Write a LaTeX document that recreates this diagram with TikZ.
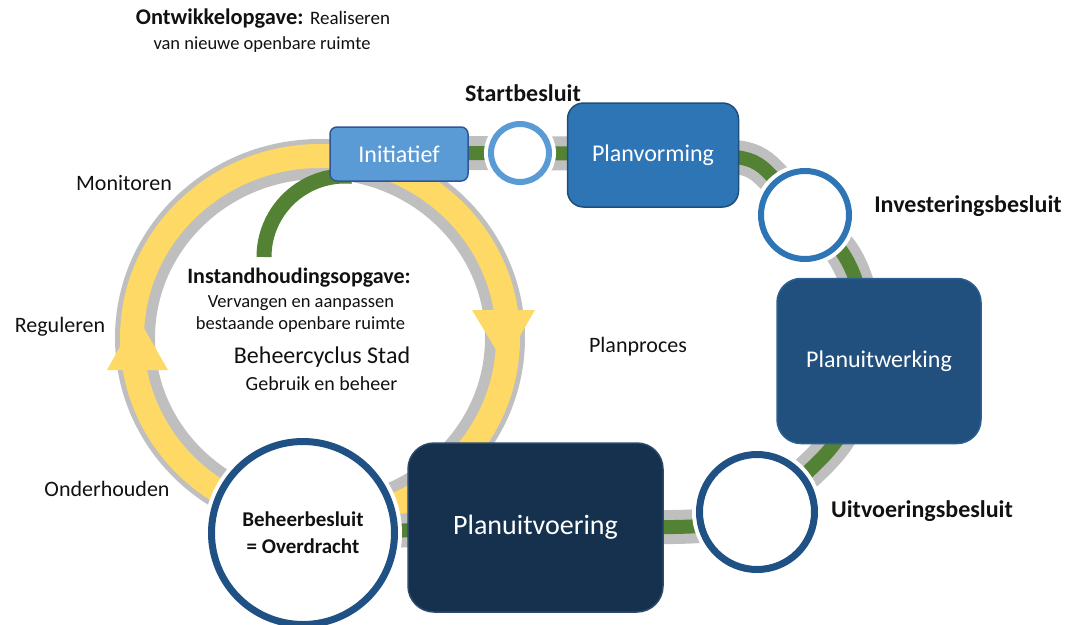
\documentclass[tikz,border=0pt]{standalone}
\usepackage{fontspec}
\setmainfont{Carlito}
\usetikzlibrary{backgrounds}
\definecolor{cGray}{HTML}{BFBFBF}
\definecolor{cYel}{HTML}{FFD966}
\definecolor{cGreen}{HTML}{548235}
\definecolor{cI}{HTML}{5B9BD5}
\definecolor{cId}{HTML}{2F5597}
\definecolor{cV}{HTML}{2E75B6}
\definecolor{cVd}{HTML}{1F4E79}
\definecolor{cW}{HTML}{22507E}
\definecolor{cWd}{HTML}{2B5F91}
\definecolor{cX}{HTML}{16314E}
\definecolor{cXd}{HTML}{2A4A6E}
\definecolor{cC}{HTML}{1F5184}
\definecolor{cTxt}{HTML}{111111}
\newcommand\fsz[1]{\fontsize{#1}{#1}\selectfont}
\tikzset{
  lbl/.style={inner sep=0pt, text=cTxt, font=\fsz{22}},
  blbl/.style={inner sep=0pt, text=cTxt, font=\bfseries\fsz{24}},
  boxnode/.style={draw, line width=1.5pt, text=white, inner sep=0pt},
  decA/.style={circle, fill=white, inner sep=0pt, line width=6pt, preaction={draw=white, line width=14pt}},
  decB/.style={circle, fill=white, inner sep=0pt, line width=7pt, preaction={draw=white, line width=15pt}},
  ringgray/.style={draw=cGray, line width=40pt},
  ringyel/.style={draw=cYel, line width=24pt},
  trackgray/.style={draw=cGray, line width=34pt},
  trackgreen/.style={draw=cGreen, line width=14pt},
}
\begin{document}
\begin{tikzpicture}[x=1pt,y=-1pt]
\useasboundingbox (0,0) rectangle (1068,624);

% title
\node[lbl] (t1) at (263,19) {{\bfseries\fsz{22.4}Ontwikkelopgave:} {\fsz{19}Realiseren}};
\node[lbl, font=\fsz{18.5}] (t2) at (262,45) {van nieuwe openbare ruimte};

% process nodes
\node[boxnode, fill=cI, draw=cId, minimum width=138pt, minimum height=54pt, rounded corners=7pt, font=\fsz{24}] (init) at (399,154) {Initiatief};
\node[decA, draw=cI, minimum size=58pt] (start) at (520,153) {};
\node[boxnode, fill=cV, draw=cVd, minimum width=171pt, minimum height=104pt, rounded corners=16pt, font=\fsz{24}] (planv) at (653,155) {Planvorming};
\node[decA, draw=cV, minimum size=88pt] (invest) at (805,215) {};
\node[boxnode, fill=cW, draw=cWd, minimum width=204pt, minimum height=165pt, rounded corners=24pt, font=\fsz{24}] (planuitw) at (879,361) {Planuitwerking};
\node[decB, draw=cC, minimum size=115pt] (uitv) at (757,512) {};
\node[boxnode, fill=cX, draw=cXd, minimum width=255pt, minimum height=169pt, rounded corners=26pt, font=\fsz{28}] (planuitvoer) at (535.5,527.5) {Planuitvoering};
\node[decB, draw=cC, minimum size=183pt, align=center, text=cTxt, font=\bfseries\fontsize{21}{27}\selectfont] (beheer) at (303,533) {Beheerbesluit\\= Overdracht};

% labels
\node[blbl] (startlbl) at (523,93) {Startbesluit};
\node[blbl] (investlbl) at (968,206) {Investeringsbesluit};
\node[blbl] (uitvlbl) at (922,511) {Uitvoeringsbesluit};
\node[lbl] (mon) at (124,183) {Monitoren};
\node[lbl] (reg) at (60,327) {Reguleren};
\node[lbl] (ond) at (107,489) {Onderhouden};
\node[lbl] (planproc) at (638,347) {Planproces};

% inner texts
\node[lbl, font=\bfseries\fsz{22}] (instand) at (299,278) {Instandhoudingsopgave:};
\node[lbl, font=\fsz{18.5}] (verv) at (301,303) {Vervangen en aanpassen};
\node[lbl, font=\fsz{18.5}] (best) at (300.5,325) {bestaande openbare ruimte};
\node[lbl, font=\fsz{24}] (cyc) at (322,357) {Beheercyclus Stad};
\node[lbl, font=\fsz{20}] (gebr) at (321.5,384) {Gebruik en beheer};

% bend points of the plan track
\coordinate (b1) at (742,158);
\coordinate (b2) at (776,180);
\coordinate (b3) at (842,252);
\coordinate (b4) at (860,295);
\coordinate (b5) at (864,350);
\coordinate (b6) at (850,415);
\coordinate (b7) at (822,458);
\coordinate (b8) at (700,526);

\begin{scope}[on background layer]
  % management cycle ring
  \coordinate (rc) at (320,338);
  \draw[ringgray] (rc) ellipse [x radius=185, y radius=179];
  \draw[ringyel] (rc) ellipse [x radius=188, y radius=182];
  \fill[cYel] (472,310) -- (535,310) -- (504,363) -- cycle;
  \fill[cYel] (107,370) -- (168,370) -- (137,316) -- cycle;
  % green link from Initiatief into the cycle
  \draw[draw=cGreen, line width=15pt] (264,257) arc[start angle=180, end angle=275, radius=81];
  % plan process track
  \draw[trackgray] plot[smooth, tension=0.55] coordinates {(init.center) (start.center) (planv.center) (b1) (b2) (invest.center) (b3) (b4) (b5) (b6) (b7) (uitv.center) (b8) (planuitvoer.center) (beheer.center)};
  \draw[trackgreen] plot[smooth, tension=0.55] coordinates {(init.center) (start.center) (planv.center) (b1) (b2) (invest.center) (b3) (b4) (b5) (b6) (b7) (uitv.center) (b8) (planuitvoer.center) (beheer.center)};
\end{scope}
\end{tikzpicture}
\end{document}
